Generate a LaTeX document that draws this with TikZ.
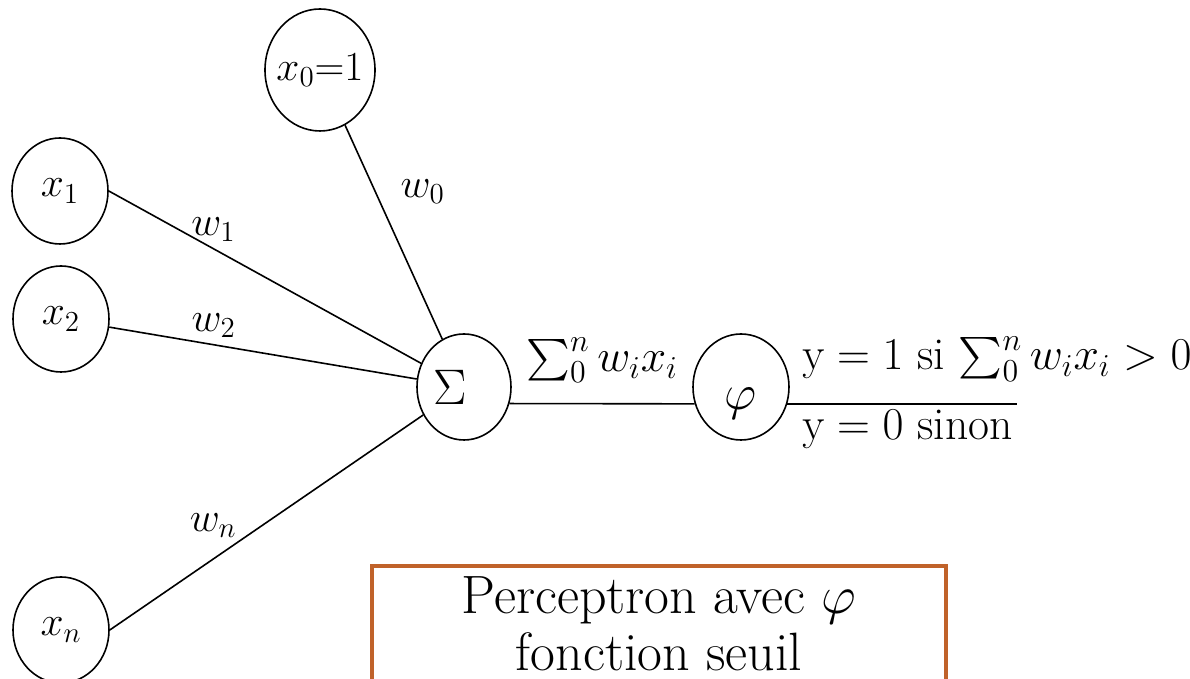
\documentclass[tikz,border=0pt]{standalone}
\usepackage{fix-cm}
\usepackage{amsmath}
\usepackage{tikz}
\usetikzlibrary{shapes.geometric}
\definecolor{notebrown}{RGB}{192,98,42}

\begin{document}
\begin{tikzpicture}[
  x=0.5pt, y=0.5pt,
  unit/.style={draw, ellipse, inner sep=0pt, line width=0.8pt,
               minimum width=48pt, minimum height=53pt,
               font=\fontsize{20.7}{24}\selectfont},
  wire/.style={line width=0.8pt},
  wlbl/.style={font=\fontsize{20.7}{24}\selectfont},
  eq/.style={inner sep=0pt, font=\fontsize{22.8}{27}\selectfont},
  note/.style={draw=notebrown, line width=2pt, align=center,
               minimum width=287pt, minimum height=58pt,
               font=\fontsize{27}{28.5}\selectfont}
]
\useasboundingbox (0,0) rectangle (1190,679);
\clip (0,0) rectangle (1190,679);

\node[unit, minimum width=55pt, minimum height=61pt] (x0) at (320,609) {\makebox[0pt]{$x_0{=}1$}};
\node[unit] (x1) at (60,488) {$x_1$};
\node[unit] (x2) at (61,360) {$x_2$};
\node[unit] (xn) at (61,49)  {$x_n$};
\node[unit, minimum width=47pt, font=\fontsize{25}{30}\selectfont] (sig) at (464,292) {$\Sigma\kern14pt$};
\node[unit, font=\fontsize{25}{30}\selectfont] (phi) at (741,292) {\rule{0pt}{27pt}$\varphi$};
\coordinate (out) at (1017,0);

\draw[wire] (x0) -- node[wlbl, pos=0.31, right=9pt] {$w_0$} (sig);
\draw[wire] (x1.east) -- node[wlbl, pos=0.335, above] {$w_1$} (sig);
\draw[wire] (x2) -- node[wlbl, pos=0.34, above] {$w_2$} (sig);
\draw[wire] (xn.east) -- node[wlbl, pos=0.33, above=7pt] {$w_n$} (sig);
\draw[wire] (sig.-20) -- node[eq, midway, above=10pt] {$\sum_0^n w_ix_i$} (phi.200);
\draw[wire] (phi.-20) -- (phi.-20 -| out);

\node[eq, anchor=base west] (yes) at (802,309) {$\mathrm{y}=1$ si $\sum_0^n w_ix_i>0$};
\node[eq, anchor=base west] (no)  at (802,239) {$\mathrm{y}=0$ sinon};

\node[note] (note) at (659,55) {Perceptron avec $\varphi$\\fonction seuil};
\end{tikzpicture}
\end{document}
